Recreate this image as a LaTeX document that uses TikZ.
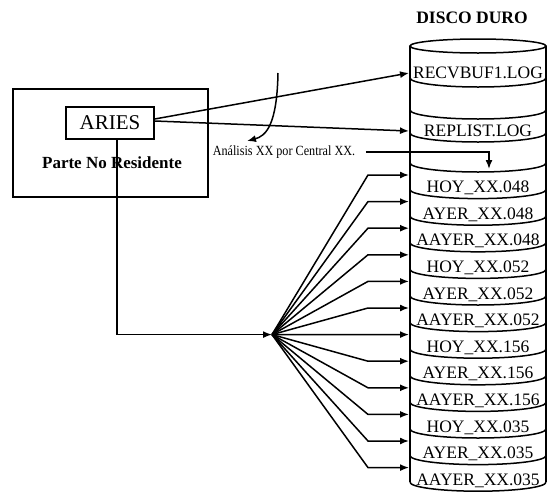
\documentclass[tikz,border=0pt]{standalone}
\usepackage{fontspec}
\setmainfont{Liberation Serif}
\newfontfamily\narrowfont[FakeStretch=0.87]{Liberation Serif}
\usetikzlibrary{arrows.meta}
\begin{document}
\begin{tikzpicture}[x=1pt,y=-1pt,line width=1.5pt,
  tip/.style={-{Latex[length=9pt,width=7pt]}},
  rowtext/.style={font=\fontsize{17.5}{18}\selectfont,inner sep=0pt},
  arc/.style={line width=1.5pt}]
\useasboundingbox (0,0) rectangle (547,493);
% left boxes
\node[draw,minimum width=195pt,minimum height=108pt,anchor=north west,inner sep=0pt] (outer) at (12,88) {};
\node[draw,fill=white,minimum width=88pt,minimum height=32pt,inner sep=0pt,font=\fontsize{21}{22}\selectfont] (aries) at (110,123) {ARIES};
\node[font=\bfseries\fontsize{17}{18}\selectfont,inner sep=0pt] (parte) at (112,163) {Parte No Residente};
% disk
\node[font=\bfseries\fontsize{17.5}{18}\selectfont,inner sep=0pt] (title) at (472,18) {DISCO DURO};
\draw (478,46) ellipse [x radius=68pt,y radius=7pt];
\draw (410,46) -- (410,482.2);
\draw (546,46) -- (546,482.2);
\foreach \c in {78,110,133} {
  \draw[arc] (410,\c) arc[start angle=180,end angle=360,x radius=68pt,y radius=9pt];
}
\foreach \i in {0,...,12} {
  \pgfmathsetmacro\c{163+26.6*\i}
  \draw[arc] (410,\c) arc[start angle=180,end angle=360,x radius=68pt,y radius=9pt];
}
\node[rowtext] (recv) at (478,73) {RECVBUF1.LOG};
\node[rowtext] (repl) at (478,131) {REPLIST.LOG};
\coordinate (recvin) at (409,73);
\coordinate (replin) at (409,131);
\foreach \i/\t in {0/{HOY\_XX.048},1/{AYER\_XX.048},2/{AAYER\_XX.048},
                   3/{HOY\_XX.052},4/{AYER\_XX.052},5/{AAYER\_XX.052},
                   6/{HOY\_XX.156},7/{AYER\_XX.156},8/{AAYER\_XX.156},
                   9/{HOY\_XX.035},10/{AYER\_XX.035},11/{AAYER\_XX.035}} {
  \pgfmathsetmacro\ty{188+26.6*\i}
  \pgfmathsetmacro\ay{175+26.6*\i}
  \node[rowtext] (r\i) at (478,\ty) {\t};
  \coordinate (in\i) at (409,\ay);
}
% arrows from ARIES to logs
\draw[tip] ([yshift=4pt]aries.east) -- (recvin);
\draw[tip] ([yshift=2pt]aries.east) -- (replin);
% analysis label
\node[font=\narrowfont\fontsize{14}{15}\selectfont,inner sep=0pt] (anal) at (284,152) {Análisis XX por Central XX.};
\coordinate (curvetop) at (278,73);
\coordinate (curveend) at (247,141);
\draw[tip] (curvetop) .. controls (277,125) and (266,136) .. (curveend);
\coordinate (analin) at (489,169);
\draw[tip] ([xshift=10pt]anal.east) -| (analin);
% fan
\coordinate (fan) at (272,334.6);
\draw[tip] ([xshift=7pt]aries.south) |- (fan);
\foreach \i in {0,...,11} {
  \draw[tip] (fan) -- ([xshift=-41pt]in\i) -- (in\i);
}
\end{tikzpicture}
\end{document}
